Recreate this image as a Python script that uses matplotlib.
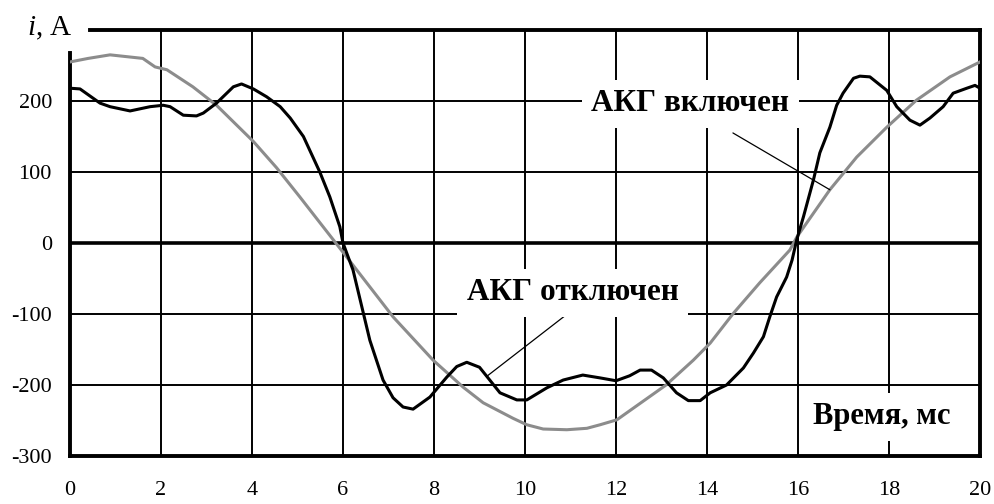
import numpy as np
import matplotlib
matplotlib.use("Agg")
import matplotlib.pyplot as plt

plt.rcParams["font.family"] = ["Liberation Serif", "DejaVu Serif"]
plt.rcParams["mathtext.fontset"] = "custom"
plt.rcParams["mathtext.rm"] = "Liberation Serif"
plt.rcParams["mathtext.it"] = "Liberation Serif:italic"

# Current with the active harmonic filter off (black) — time in ms, current in A
t_off = [0.0, 0.22, 0.66, 0.88, 1.32, 1.76, 2.05, 2.2, 2.49, 2.78, 2.93, 3.22,
         3.59, 3.77, 4.03, 4.32, 4.62, 4.84, 5.13, 5.49, 5.71, 5.93, 6.0, 6.22,
         6.59, 6.88, 7.1, 7.32, 7.54, 7.91, 8.28, 8.5, 8.72, 9.0, 9.45, 9.82,
         10.04, 10.48, 10.84, 11.27, 11.65, 12.0, 12.3, 12.53, 12.78, 13.04,
         13.33, 13.59, 13.85, 14.07, 14.43, 14.8, 15.02, 15.24, 15.38, 15.53,
         15.75, 15.87, 15.97, 16.12, 16.34, 16.48, 16.7, 16.85, 16.99, 17.22,
         17.36, 17.58, 17.95, 18.17, 18.46, 18.68, 18.9, 19.19, 19.41, 19.71,
         19.89, 20.0]
i_off = [218, 217, 197, 192, 186, 192, 194, 192, 180, 179, 183, 197,
         220, 224, 217, 206, 192, 176, 150, 100, 65, 23, 0, -38,
         -137, -193, -218, -231, -234, -217, -189, -174, -168, -175, -211, -221,
         -221, -204, -193, -186, -190, -194, -187, -179, -179, -190,
         -211, -222, -222, -211, -200, -176, -155, -132, -104, -76,
         -48, -24, 4, 37, 89, 127, 163, 194, 211, 232,
         235, 234, 215, 192, 173, 166, 176, 192, 211, 218,
         222, 218]

# Current with the active harmonic filter on (grey)
t_on = [0.0, 0.4, 0.88, 1.6, 1.87, 2.13, 2.7, 3.22, 4.03, 4.54, 5.05, 5.5,
        6.0, 7.1, 7.98, 8.64, 9.08, 9.38, 9.74, 10.04, 10.4, 10.92, 11.36,
        11.65, 12.02, 13.1, 13.7, 14.07, 14.58, 15.16, 15.82, 15.97, 16.7,
        17.29, 17.95, 18.6, 19.34, 20.0]
i_on = [255, 260, 265, 260, 248, 244, 220, 194, 143, 106, 65, 28,
        -13, -104, -165, -203, -225, -235, -247, -256, -262, -263, -261,
        -256, -249, -200, -165, -141, -99, -56, -10, 8, 75,
        121, 163, 201, 234, 255]

x_ticks = [0, 2, 4, 6, 8, 10, 12, 14, 16, 18, 20]
y_ticks = [-300, -200, -100, 0, 100, 200]

label_on = "АКГ включен"
label_off = "АКГ отключен"
x_title = "Время, мс"

fig = plt.figure(figsize=(9.95, 5.04), dpi=100)
ax = fig.add_axes([70 / 995, 1 - 456 / 504, 910 / 995, 426 / 504])
ax.set_xlim(0, 20)
ax.set_ylim(-300, 300)

# grid
for xv in x_ticks[1:-1]:
    ax.axvline(xv, color="black", lw=1.4, zorder=1)
for yv in y_ticks:
    if yv not in (-300, 0):
        ax.axhline(yv, color="black", lw=1.4, zorder=1)
ax.axhline(0, color="black", lw=2.6, zorder=1)

ax.plot(t_on, i_on, color="#8c8c8c", lw=2.2, zorder=3)
ax.plot(t_off, i_off, color="black", lw=2.2, zorder=4)

for s in ax.spines.values():
    s.set_linewidth(2.8)
ax.spines["left"].set_bounds(-300, 268)
ax.spines["top"].set_bounds(0.44, 20)

ax.set_xticks(x_ticks)
ax.set_yticks(y_ticks)
ax.set_xticklabels([str(v) for v in x_ticks])
ax.set_yticklabels([str(v) for v in y_ticks])
ax.tick_params(axis="both", length=0, labelsize=16)
ax.tick_params(axis="x", pad=18)
ax.tick_params(axis="y", pad=13)

box = dict(boxstyle="square,pad=0.3", facecolor="white", edgecolor="none")
ax.text(13.63, 196, label_on, fontsize=22.5, fontweight="bold", ha="center",
        va="center", bbox=box, zorder=6)
ax.text(11.05, -70, label_off, fontsize=22.5, fontweight="bold", ha="center",
        va="center", bbox=box, zorder=6)
ax.text(17.85, -245, x_title, fontsize=22, fontweight="bold", ha="center",
        va="center", bbox=box, zorder=6)

# leader lines pointing at the curves
x_on_pt = 16.7
ax.annotate("", xy=(x_on_pt, np.interp(x_on_pt, t_on, i_on)), xytext=(14.57, 155),
            arrowprops=dict(arrowstyle="-", lw=0.9, color="black",
                            shrinkA=0, shrinkB=0), zorder=5)
x_off_pt = 9.16
ax.annotate("", xy=(x_off_pt, np.interp(x_off_pt, t_off, i_off)), xytext=(11.05, -94),
            arrowprops=dict(arrowstyle="-", lw=0.9, color="black",
                            shrinkA=0, shrinkB=0), zorder=5)

fig.text(72 / 995, 1 - 35 / 504, r"$i$, A", fontsize=21, ha="right", va="baseline")

fig.savefig("out.png", dpi=100)
